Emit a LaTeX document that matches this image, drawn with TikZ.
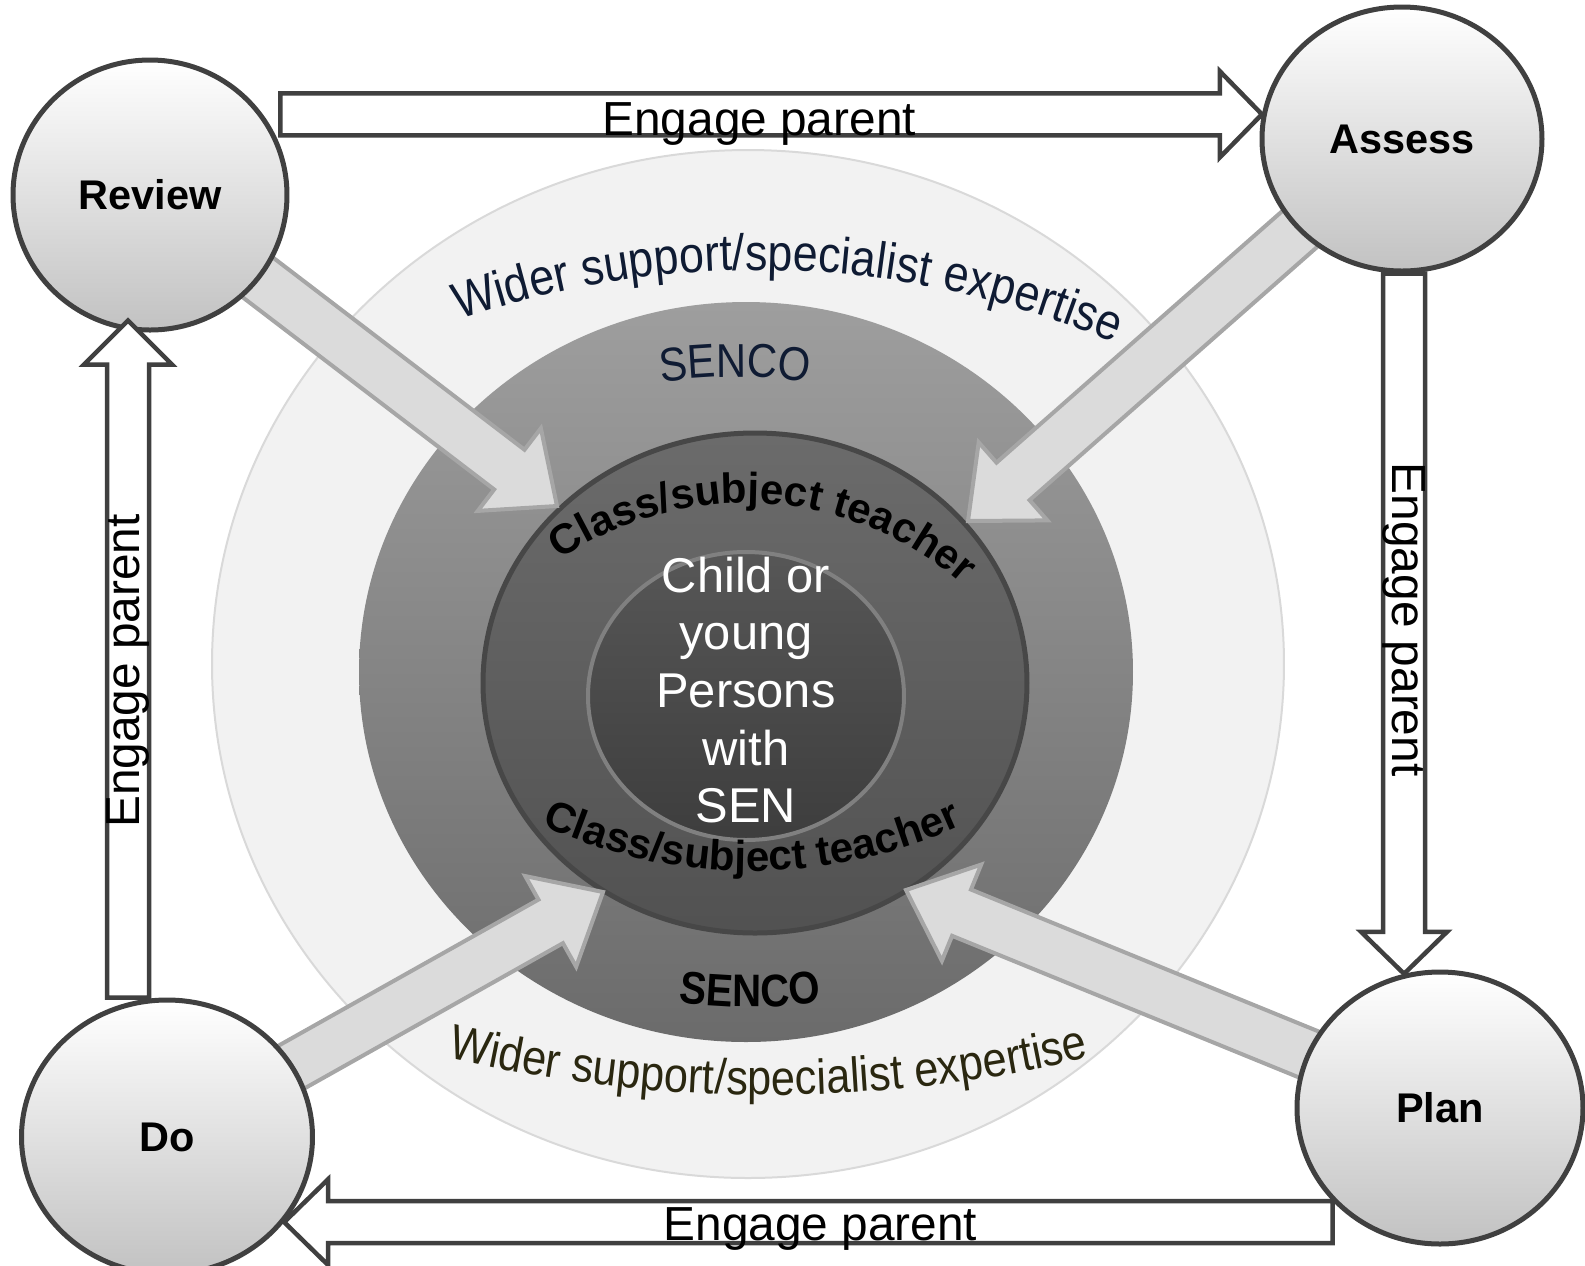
\documentclass[tikz,border=0pt]{standalone}
\usepackage{fontspec}
\setmainfont{Liberation Sans}
\newfontfamily\narrowfont[FakeStretch=0.88]{Liberation Sans}
\usetikzlibrary{calc,shapes.geometric,decorations.text,backgrounds}

\definecolor{navytext}{HTML}{0F1B33}
\definecolor{olivetext}{HTML}{2A2710}

\tikzset{
  stage/.style={ellipse, inner sep=0pt, draw=black!75, line width=0.5mm, top color=white, bottom color=black!24, font=\bfseries\fontsize{11.8}{14}\selectfont},
  ring/.style={ellipse, inner sep=0pt},
  hollow/.style={draw=black!75, fill=white, line width=0.45mm, line join=miter},
  fatgray/.style={draw=black!35, fill=black!14, line width=0.4mm, line join=miter},
  engage/.style={inner sep=0pt, font=\fontsize{13.6}{16}\selectfont},
  ringtext/.style 2 args={decorate, decoration={text along path, text align=center, text color=#1, text={#2}}}
}

\newcommand\blockarrow[6]{%
  \coordinate (hb) at ($(#3)!#6!(#2)$);
  \draw[#1] ($(#2)!#4!90:(#3)$) -- ($(hb)!#4!90:(#3)$) -- ($(hb)!#5!90:(#3)$) -- (#3)
    -- ($(hb)!#5!-90:(#3)$) -- ($(hb)!#4!-90:(#3)$) -- ($(#2)!#4!-90:(#3)$) -- cycle;}

\begin{document}
\begin{tikzpicture}[x=0.1mm, y=-0.1mm]
  \useasboundingbox (0,0) rectangle (1585,1265);

  \node[stage, minimum width=27.4mm, minimum height=27mm] (review) at (150,195) {Review};
  \node[stage, minimum width=28mm, minimum height=26.4mm] (assess) at (1402,139) {Assess};
  \node[stage, minimum width=28.6mm, minimum height=27.2mm] (plan) at (1440,1108) {Plan};
  \node[stage, minimum width=29.1mm, minimum height=27.4mm] (do) at (167,1137) {Do};

  \coordinate (rv-tip) at (557,506);
  \coordinate (as-tip) at (968,521);
  \coordinate (do-tip) at (603,892);
  \coordinate (pl-tip) at (906,890);

  \begin{scope}[on background layer]
    \node[ring, minimum width=107.2mm, minimum height=102.8mm, fill=black!5, draw=black!15, line width=0.2mm] (wider) at (748,664) {};
    \node[ring, minimum width=77.4mm, minimum height=74mm, top color=black!38, bottom color=black!58] (senco) at (746,672) {};
    \node[ring, minimum width=54.4mm, minimum height=50mm, top color=black!58, bottom color=black!68, draw=black!72, line width=0.5mm] (classring) at (755,683) {};
    \node[ring, minimum width=31.6mm, minimum height=28.8mm, top color=black!66, bottom color=black!76, draw=black!50, line width=0.4mm] (core) at (746,696) {};

    \blockarrow{fatgray}{review.center}{rv-tip}{2.5mm}{5.2mm}{6mm}
    \blockarrow{fatgray}{assess.center}{as-tip}{2.5mm}{5.2mm}{6mm}
    \blockarrow{fatgray}{do.center}{do-tip}{2.5mm}{5.2mm}{6mm}
    \blockarrow{fatgray}{plan.center}{pl-tip}{2.5mm}{5.2mm}{6mm}

    \path[ringtext={navytext}{|\narrowfont\fontsize{14.5}{16}\selectfont|Wider support/specialist expertise}]
      (757,1180) ++(246:910) arc[start angle=246, end angle=298, radius=910];
    \path[ringtext={olivetext}{|\narrowfont\fontsize{14}{16}\selectfont|Wider support/specialist expertise}]
      (768,-300) ++(104:1395) arc[start angle=104, end angle=76, radius=1395];
    \path[ringtext={navytext}{|\narrowfont\fontsize{13.5}{16}\selectfont|SENCO}]
      (735,880) ++(255:503) arc[start angle=255, end angle=285, radius=503];
    \path[ringtext={black}{|\narrowfont\bfseries\fontsize{13}{16}\selectfont|SENCO}]
      (750,500) ++(100:507) arc[start angle=100, end angle=80, radius=507];
    \path[ringtext={black}{|\bfseries\fontsize{12}{14}\selectfont|Class/subject teacher}]
      (745,834) ++(233.5:331) arc[start angle=233.5, end angle=313.5, radius=331];
    \path[ringtext={black}{|\bfseries\fontsize{12}{14}\selectfont|Class/subject teacher}]
      (752,367) ++(116:504) arc[start angle=116, end angle=64, radius=504];
  \end{scope}

  \node[align=center, text=white, font=\fontsize{13.9}{16.4}\selectfont] (child) at (746,690) {Child or\\young\\Persons\\with\\SEN};

  \coordinate (top-tip) at (assess.170);
  \coordinate (top-tail) at ($(top-tip -| review.east)+(-9,0)$);
  \coordinate (rgt-tip) at (plan.105);
  \coordinate (rgt-tail) at (rgt-tip |- assess.south);
  \coordinate (bot-tip) at (do.-36);
  \coordinate (bot-tail) at ($(bot-tip -| plan.west)+(38,0)$);
  \coordinate (lft-tip) at ($(review.south)+(-22,-12)$);
  \coordinate (lft-tail) at (lft-tip |- do.north);

  \blockarrow{hollow}{top-tail}{top-tip}{2.1mm}{4.3mm}{4.2mm}
  \blockarrow{hollow}{rgt-tail}{rgt-tip}{2.1mm}{4.3mm}{4.2mm}
  \blockarrow{hollow}{bot-tail}{bot-tip}{2.1mm}{4.3mm}{4.4mm}
  \blockarrow{hollow}{lft-tail}{lft-tip}{2.1mm}{4.4mm}{4.4mm}

  \node[engage] (eng-top) at ($(top-tail)!0.5!(top-tip)+(-12,10)$) {Engage parent};
  \node[engage, rotate=-90] (eng-rgt) at ($(rgt-tail)!0.5!(rgt-tip)+(0,-4)$) {Engage parent};
  \node[engage] (eng-bot) at ($(bot-tail)!0.5!(bot-tip)+(12,7)$) {Engage parent};
  \node[engage, rotate=90] (eng-lft) at ($(lft-tail)!0.5!(lft-tip)+(0,12)$) {Engage parent};
\end{tikzpicture}
\end{document}
